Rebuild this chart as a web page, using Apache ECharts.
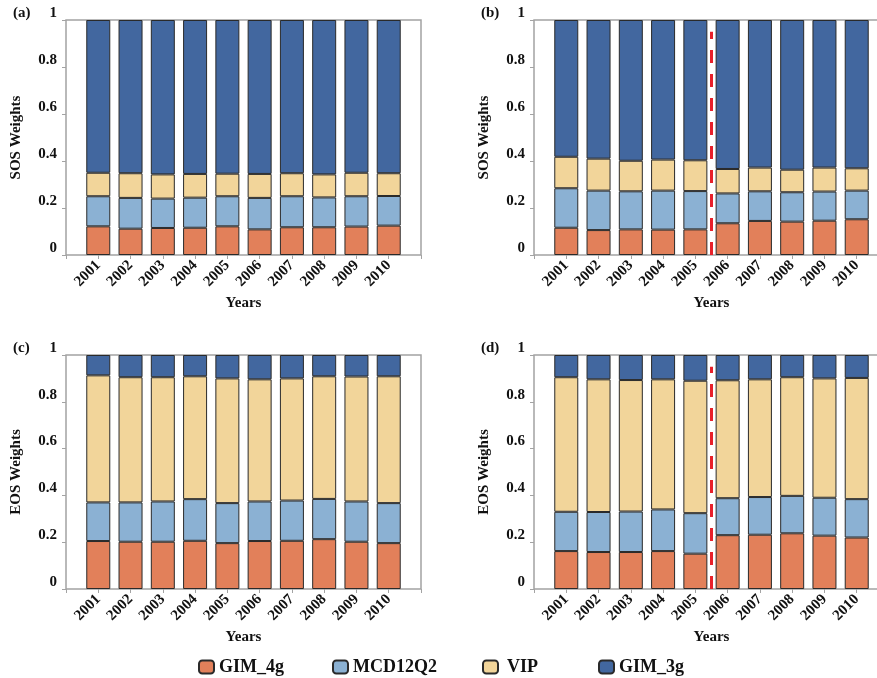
<!DOCTYPE html>
<html>
<head>
<meta charset="utf-8">
<script src="https://cdn.jsdelivr.net/npm/echarts@6/dist/echarts.min.js"></script>
<style>
  html, body { margin: 0; padding: 0; background: #fff; overflow: hidden; }
  /* the right-hand panels run past the page edge, as in the printed figure */
  #chart { width: 900px; height: 678px; }
</style>
</head>
<body>
<div id="chart"></div>
<script>
// Years on the horizontal axis and labels for the weight axis
const years = ['2001', '2002', '2003', '2004', '2005', '2006', '2007', '2008', '2009', '2010'];
const weightTicks = ['0', '0.2', '0.4', '0.6', '0.8', '1'];
const seriesNames = ['GIM_4g', 'MCD12Q2', 'VIP', 'GIM_3g'];

// (a) SOS weights, constant-weight scheme
const sosA_gim4g  = [0.122, 0.112, 0.115, 0.116, 0.122, 0.109, 0.118, 0.118, 0.121, 0.125];
const sosA_mcd    = [0.128, 0.131, 0.125, 0.128, 0.128, 0.134, 0.132, 0.127, 0.129, 0.126];
const sosA_vip    = [0.100, 0.105, 0.103, 0.101, 0.096, 0.102, 0.098, 0.098, 0.100, 0.097];
const sosA_gim3g  = [0.650, 0.652, 0.657, 0.655, 0.654, 0.655, 0.652, 0.657, 0.650, 0.652];

// (b) SOS weights, split at 2005/2006
const sosB_gim4g  = [0.116, 0.106, 0.109, 0.108, 0.109, 0.135, 0.145, 0.142, 0.146, 0.152];
const sosB_mcd    = [0.168, 0.168, 0.162, 0.166, 0.163, 0.127, 0.126, 0.125, 0.124, 0.122];
const sosB_vip    = [0.134, 0.136, 0.130, 0.132, 0.131, 0.104, 0.101, 0.096, 0.102, 0.095];
const sosB_gim3g  = [0.582, 0.590, 0.599, 0.594, 0.597, 0.634, 0.628, 0.637, 0.628, 0.631];

// (c) EOS weights, constant-weight scheme
const eosC_gim4g  = [0.205, 0.202, 0.202, 0.206, 0.196, 0.205, 0.206, 0.213, 0.202, 0.196];
const eosC_mcd    = [0.165, 0.168, 0.172, 0.178, 0.171, 0.169, 0.172, 0.172, 0.172, 0.171];
const eosC_vip    = [0.543, 0.535, 0.531, 0.525, 0.533, 0.522, 0.522, 0.524, 0.534, 0.542];
const eosC_gim3g  = [0.087, 0.095, 0.095, 0.091, 0.100, 0.104, 0.100, 0.091, 0.092, 0.091];

// (d) EOS weights, split at 2005/2006
const eosD_gim4g  = [0.162, 0.158, 0.158, 0.162, 0.151, 0.230, 0.232, 0.238, 0.228, 0.220];
const eosD_mcd    = [0.168, 0.171, 0.173, 0.178, 0.173, 0.158, 0.161, 0.160, 0.162, 0.164];
const eosD_vip    = [0.575, 0.567, 0.562, 0.556, 0.566, 0.504, 0.503, 0.507, 0.510, 0.518];
const eosD_gim3g  = [0.095, 0.104, 0.107, 0.104, 0.110, 0.108, 0.104, 0.095, 0.100, 0.098];

// The period break sits between 2005 and 2006; the marker runs up to 0.95
const breakAfterYear = '2005';
const breakTop = 0.95;

const colors = ['#E2805A', '#8BB1D3', '#F2D59A', '#42679F'];
const FONT = '"Liberation Serif", "Times New Roman", serif';
const AXIS_GRAY = '#a3a3a3';

// one empty slot on each side of the years
const slots = [''].concat(years, ['']);

const panels = [
  { tag: '(a)', yName: 'SOS Weights', values: [sosA_gim4g, sosA_mcd, sosA_vip, sosA_gim3g], split: false,
    grid: { left: 66, top: 20, width: 355, height: 235 } },
  { tag: '(b)', yName: 'SOS Weights', values: [sosB_gim4g, sosB_mcd, sosB_vip, sosB_gim3g], split: true,
    grid: { left: 534, top: 20, width: 355, height: 235 } },
  { tag: '(c)', yName: 'EOS Weights', values: [eosC_gim4g, eosC_mcd, eosC_vip, eosC_gim3g], split: false,
    grid: { left: 66, top: 355, width: 355, height: 234 } },
  { tag: '(d)', yName: 'EOS Weights', values: [eosD_gim4g, eosD_mcd, eosD_vip, eosD_gim3g], split: true,
    grid: { left: 534, top: 355, width: 355, height: 234 } }
];

const grids = [], xAxes = [], yAxes = [], series = [], graphics = [];
const overlayAxes = [];

panels.forEach((p, i) => {
  grids.push(Object.assign({
    show: true, borderColor: AXIS_GRAY, borderWidth: 1.5, backgroundColor: '#fff',
    outerBoundsMode: 'none', containLabel: false
  }, p.grid));

  xAxes.push({
    gridIndex: i, type: 'category', data: slots, boundaryGap: false,
    splitLine: { show: false },
    axisLine: { show: false },
    axisTick: { show: true, length: 4, interval: 0, lineStyle: { color: AXIS_GRAY, width: 1 } },
    axisLabel: {
      interval: 0, rotate: 45, margin: 8, color: '#111',
      fontFamily: FONT, fontWeight: 'bold', fontSize: 15
    },
    name: 'Years', nameLocation: 'middle', nameGap: 41,
    nameTextStyle: { fontFamily: FONT, fontWeight: 'bold', fontSize: 15, color: '#111' }
  });

  // hidden continuous axis over the same slots, used to place the break marker between years
  overlayAxes.push({
    gridIndex: i, type: 'value', min: 0, max: slots.length - 1, show: false
  });

  yAxes.push({
    gridIndex: i, type: 'value', min: 0, max: 1, interval: 0.2,
    splitLine: { show: false },
    axisLine: { show: false },
    axisTick: { show: true, length: 4, lineStyle: { color: AXIS_GRAY, width: 1 } },
    axisLabel: {
      margin: 9, color: '#111', fontFamily: FONT, fontWeight: 'bold', fontSize: 15,
      verticalAlign: 'bottom', lineHeight: 14,
      formatter: v => weightTicks[Math.round(v / 0.2)]
    },
    name: p.yName, nameLocation: 'middle', nameGap: 42, nameRotate: 90,
    nameTextStyle: { fontFamily: FONT, fontWeight: 'bold', fontSize: 15, color: '#111' }
  });

  seriesNames.forEach((name, s) => {
    series.push({
      name, type: 'bar', stack: 'panel' + i,
      xAxisIndex: i, yAxisIndex: i,
      barWidth: 24,
      itemStyle: { color: colors[s], borderColor: '#2a2a2a', borderWidth: 1 },
      data: [null].concat(p.values[s], [null]),
      animation: false
    });
  });

  graphics.push({
    type: 'text',
    left: p.grid.left - 53, top: p.grid.top - 14,
    style: { text: p.tag, font: 'bold 15px ' + FONT, fill: '#111' }
  });
});

// red dashed break markers for the split panels
panels.forEach((p, i) => {
  if (!p.split) return;
  const pos = slots.indexOf(breakAfterYear) + 0.5;
  series.push({
    name: 'break' + i, type: 'line',
    xAxisIndex: panels.length + i, yAxisIndex: i,
    data: [[pos, 0], [pos, breakTop]],
    symbol: 'none', silent: true, z: 5,
    lineStyle: { color: '#E8202A', width: 3, type: [13, 11] },
    animation: false
  });
});

// Legend entries laid out along the bottom edge
const legendLefts = [193, 327, 477, 593];
const legends = seriesNames.map((name, s) => ({
  data: [name], left: legendLefts[s], top: 653,
  itemWidth: 15, itemHeight: 13, itemGap: 0,
  selectedMode: false,
  textStyle: { fontFamily: FONT, fontWeight: 'bold', fontSize: 18, color: '#111',
               padding: name === 'VIP' ? [0, 0, 0, 4] : 0 }
}));

const chart = echarts.init(document.getElementById('chart'), null, { renderer: 'canvas' });
chart.setOption({
  backgroundColor: '#fff',
  animation: false,
  grid: grids,
  xAxis: xAxes.concat(overlayAxes),
  yAxis: yAxes,
  legend: legends,
  series: series,
  graphic: graphics
});
</script>
</body>
</html>
